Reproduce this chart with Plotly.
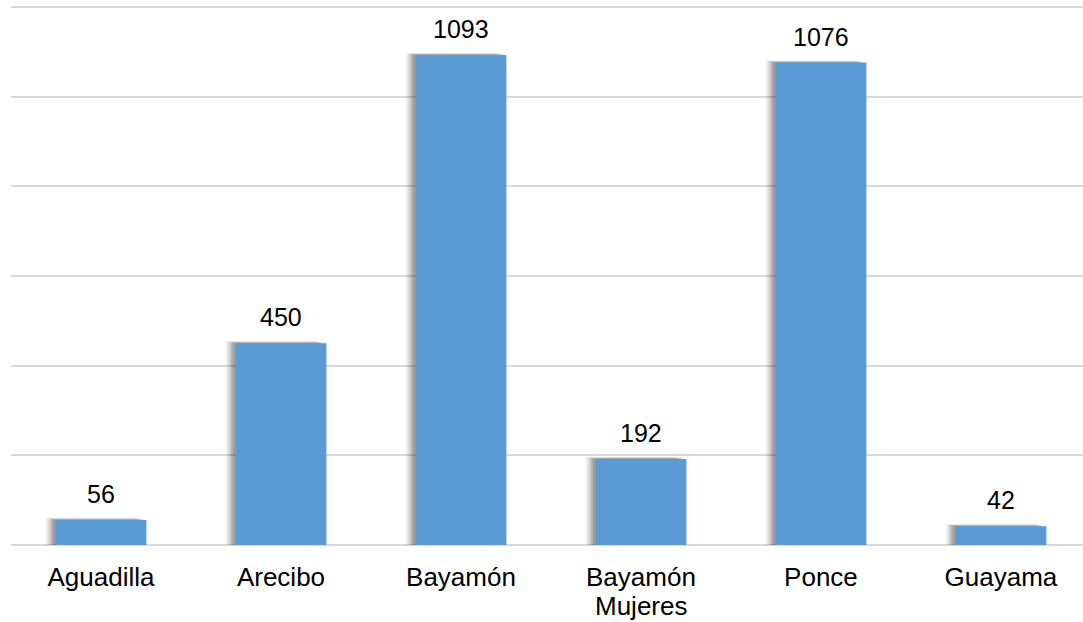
import plotly.graph_objects as go

categories = ["Aguadilla", "Arecibo", "Bayamón", "Bayamón\nMujeres", "Ponce", "Guayama"]
values = [56, 450, 1093, 192, 1076, 42]
x_pos = list(range(len(categories)))

bar_w = 0.505
fig = go.Figure()

# soft shadow layers (left/top)
shadow_layers = [(0.055, 5, 0.05), (0.045, 4, 0.07), (0.035, 3, 0.09), (0.025, 2, 0.11), (0.015, 1, 0.12)]
for dx, dy, alpha in shadow_layers:
    fig.add_trace(go.Bar(
        x=x_pos, y=[v + dy for v in values],
        width=bar_w, offset=-bar_w / 2 - dx,
        marker=dict(color=f"rgba(0,0,0,{alpha})", line=dict(width=0)),
        hoverinfo="skip", showlegend=False,
    ))

fig.add_trace(go.Bar(
    x=x_pos, y=values,
    width=bar_w, offset=-bar_w / 2,
    marker=dict(color="#5b9bd5", line=dict(width=0)),
    showlegend=False,
))

font = dict(family="Liberation Sans, Arial", size=25, color="#000000")
for xi, v in zip(x_pos, values):
    fig.add_annotation(x=xi, y=v, text=str(v), showarrow=False,
                       yanchor="bottom", yshift=10, font=font)

# first line of each category as tick label; further lines as tight annotations
first_lines = [c.split("\n")[0] for c in categories]
for xi, c in zip(x_pos, categories):
    for k, line in enumerate(c.split("\n")[1:], start=1):
        fig.add_annotation(x=xi, xref="x", y=0, yref="paper", text=line, showarrow=False,
                           yanchor="middle", yshift=-(32 + 29 * k),
                           font=dict(family="Liberation Sans, Arial", size=26, color="#000000"))

fig.update_layout(
    width=1083, height=622,
    margin=dict(l=11, r=0, t=5, b=77),
    paper_bgcolor="white", plot_bgcolor="white",
    barmode="overlay",
    font=font,
    xaxis=dict(range=[-0.5, 5.456], tickmode="array", tickvals=x_pos, ticktext=first_lines,
               showgrid=False, zeroline=False, showline=False, ticks="",
               automargin=False, ticklabelstandoff=14,
               tickfont=dict(size=26, color="#000000")),
    yaxis=dict(range=[0, 1204.5], tickmode="array", tickvals=[200, 400, 600, 800, 1000, 1200],
               showgrid=True, gridcolor="#d9d9d9", gridwidth=1.5,
               zeroline=True, zerolinecolor="#d9d9d9", zerolinewidth=1.5,
               showticklabels=False, ticks="", automargin=False),
)

fig.write_html("out.html", config={"displayModeBar": False},
               post_script="document.body.style.margin='0';")
